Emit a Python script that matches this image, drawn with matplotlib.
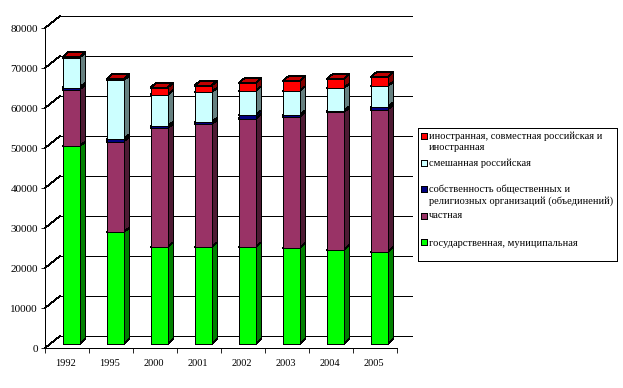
import matplotlib
matplotlib.use("Agg")
from matplotlib import pyplot as plt
from matplotlib.patches import Polygon, Rectangle

plt.rcParams['font.family'] = ['Liberation Serif', 'DejaVu Serif']
plt.rcParams['lines.antialiased'] = False
plt.rcParams['patch.antialiased'] = False

years = ['1992', '1995', '2000', '2001', '2002', '2003', '2004', '2005']
# stack order bottom to top
gos = [49400, 27900, 24200, 24200, 24200, 24000, 23500, 23000]
chast = [14200, 22700, 29700, 30700, 32100, 32700, 34400, 35600]
sobstv = [500, 600, 500, 500, 900, 500, 300, 600]
smesh = [7500, 14700, 7900, 7500, 6000, 6000, 5700, 5200]
inostr = [150, 350, 1800, 1700, 2000, 2500, 2300, 2300]

series = [gos, chast, sobstv, smesh, inostr]
# front, top, side
colors = [('#00ff00', '#00c000', '#008000'),
          ('#993366', '#73264d', '#4d1a33'),
          ('#000080', '#000060', '#000040'),
          ('#ccffff', '#99bfbf', '#668080'),
          ('#ff0000', '#c00000', '#800000')]

legend_lines = [(136, 'иностранная, совместная российская и'),
                (148, 'иностранная'),
                (163, 'смешанная российская'),
                (189, 'собственность общественных и'),
                (201, 'религиозных организаций (объединений)'),
                (216, 'частная'),
                (243, 'государственная, муниципальная')]
legend_swatches = [(136, '#ff0000'), (163, '#ccffff'), (189, '#000080'),
                   (216, '#993366'), (242, '#00ff00')]

W, H = 623, 388
lw = 0.6

fig = plt.figure(figsize=(W / 100, H / 100), dpi=100)
ax = fig.add_axes([45 / W, 1 - 348 / H, 352 / W, 320 / H])
ax.set_xlim(0, len(years))
ax.set_ylim(0, 80000)
ax.patch.set_visible(False)

# pixels to data units
px = len(years) / 352
py = 80000 / 320

# wall grid
wall_dx, wall_dy = 15 * px, 12 * py
for v in range(0, 80001, 10000):
    ax.plot([0, wall_dx], [v, v + wall_dy], color='k', lw=lw, clip_on=False, zorder=1)
    ax.plot([wall_dx, len(years) + wall_dx], [v + wall_dy, v + wall_dy], color='k', lw=lw,
            clip_on=False, zorder=1)

# 3d stacked columns
base = 1000
bar_l, bar_w = 17.5 * px, 17 * px
dx, dy = 6 * px, 5 * py
z = 3
for i in range(len(years)):
    bottom = base
    x0 = i + bar_l
    x1 = x0 + bar_w
    for s, (front, top, side) in zip(series, colors):
        y0, y1 = bottom, bottom + s[i]
        ax.add_patch(Polygon([(x1, y0), (x1 + dx, y0 + dy), (x1 + dx, y1 + dy), (x1, y1)],
                             fc=side, ec='k', lw=lw, clip_on=False, zorder=z))
        ax.add_patch(Polygon([(x0, y1), (x1, y1), (x1 + dx, y1 + dy), (x0 + dx, y1 + dy)],
                             fc=top, ec='k', lw=lw, clip_on=False, zorder=z))
        ax.add_patch(Rectangle((x0, y0), bar_w, s[i], fc=front, ec='k', lw=lw,
                               clip_on=False, zorder=z))
        bottom = y1
        z += 1

for name in ['top', 'right']:
    ax.spines[name].set_visible(False)
for name in ['left', 'bottom']:
    ax.spines[name].set_linewidth(lw)
ax.set_yticks(range(0, 80001, 10000))
ax.set_xticks(range(len(years) + 1))
ax.set_xticklabels([])
ax.set_xticks([i + 0.47 for i in range(len(years))], minor=True)
ax.set_xticklabels(years, minor=True, fontsize=7.5)
ax.tick_params(axis='x', which='major', length=3.5, width=lw)
ax.tick_params(axis='x', which='minor', length=0, pad=8)
ax.tick_params(axis='y', length=3, width=lw, labelsize=8, pad=2)

# legend
fig.add_artist(Rectangle((418 / W, 1 - 260.5 / H), 198.5 / W, 133 / H, fc='white', ec='k', lw=lw,
                         transform=fig.transFigure, zorder=10))
for y, c in legend_swatches:
    fig.add_artist(Rectangle((421 / W, 1 - (y + 3) / H), 6 / W, 6 / H, fc=c, ec='k', lw=lw,
                             transform=fig.transFigure, zorder=11))
for y, t in legend_lines:
    fig.text(429 / W, 1 - y / H, t, fontsize=7.5, va='center', ha='left', zorder=12)

fig.savefig('out.png', dpi=100)
